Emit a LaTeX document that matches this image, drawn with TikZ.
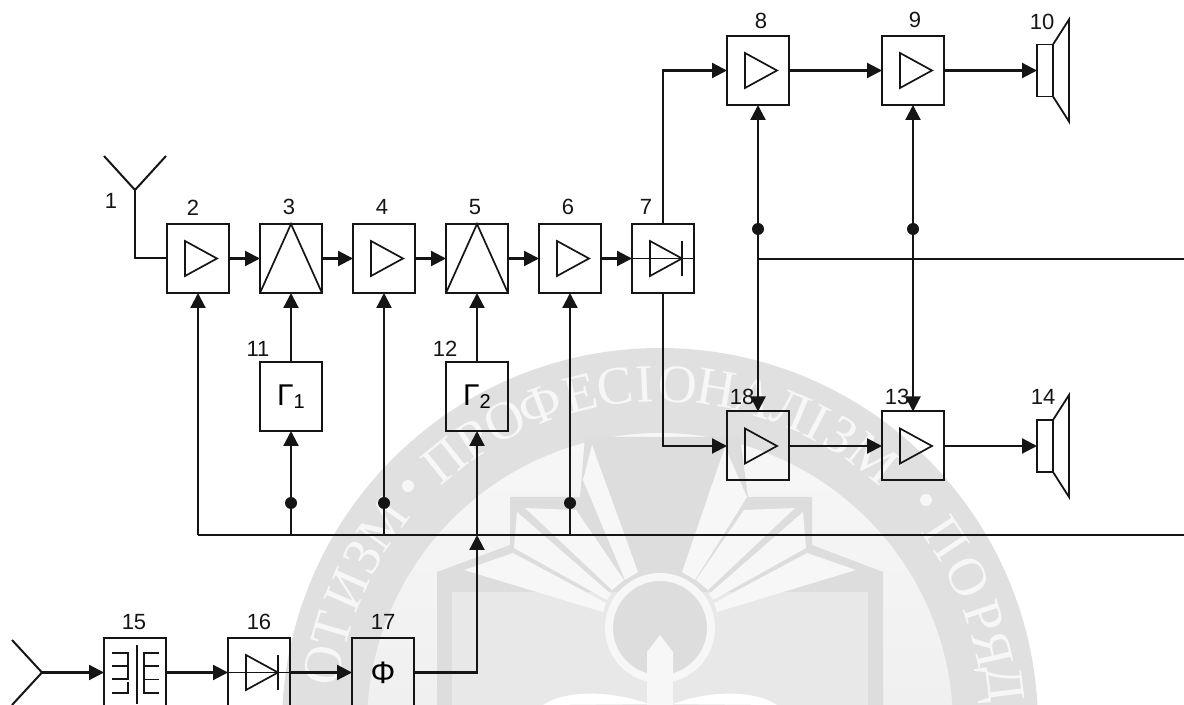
\documentclass[tikz,border=0pt]{standalone}
\usepackage{fontspec}
\setmainfont{Liberation Sans}
\newfontfamily\wmfont{Liberation Serif}
\usetikzlibrary{arrows.meta,positioning,calc}
\definecolor{ink}{HTML}{151515}
\definecolor{wmring}{HTML}{E0E0E0}
\definecolor{wmdark}{HTML}{DDDDDD}
\definecolor{wmmid}{HTML}{E8E8E8}
\definecolor{wmpale}{HTML}{F7F7F7}
\newcommand{\gen}[1]{\fontsize{15}{15}\selectfont Γ\raisebox{-1.5pt}{\fontsize{10}{10}\selectfont #1}}
\tikzset{
  block/.style={draw=ink,line width=1pt,minimum width=31pt,minimum height=34.5pt,inner sep=0pt,outer sep=0pt},
  spk/.style={draw=ink,line width=.9pt,minimum width=8pt,minimum height=26pt,inner sep=0pt,outer sep=0pt},
  arrow/.style={-{Triangle[length=7.5pt,width=7.5pt]},line width=1.1pt,draw=ink},
  twoway/.style={{Triangle[length=7.5pt,width=7.5pt]}-{Triangle[length=7.5pt,width=7.5pt]},line width=1.1pt,draw=ink},
  wire/.style={line width=1pt,draw=ink},
  thin wire/.style={line width=.85pt,draw=ink},
  num/.style={font=\fontsize{11}{12}\selectfont,text=ink,inner sep=0pt},
  dot/.style={circle,fill=ink,inner sep=0pt,minimum size=6pt},
  wm/.style={font=\wmfont\fontsize{27}{27}\selectfont,text=wmpale,inner sep=0pt}
}
\begin{document}
\begin{tikzpicture}[x=.5pt,y=-.5pt,node distance=15.5pt]
\useasboundingbox (0,0) rectangle (1184,705);
\clip (0,0) rectangle (1184,705);

% seal behind the scheme
\fill[wmring] (660,726) circle [radius=378];
\shade[top color=wmpale,bottom color=wmmid] (660,726) circle [radius=293];
\fill[wmdark] (585,437)--(740,437)--(748,497)--(812,497)--(812,545)--(883,572)--(883,705)
  --(437,705)--(437,572)--(510,545)--(510,497)--(580,497)--cycle;
\fill[wmmid] (452,592)--(868,592)--(868,705)--(452,705)--cycle;
\fill[wmpale] (592,445)--(638,572)--(625,580)--(583,480)--cycle;
\fill[wmpale] (525,508)--(576,510)--(624,580)--(612,590)--cycle;
\fill[wmpale] (517,512)--(611,594)--(607,600)--(514,548)--cycle;
\fill[wmpale] (464,570)--(513,553)--(606,603)--(603,612)--cycle;
\fill[wmpale] (725,447)--(682,572)--(695,580)--(747,497)--cycle;
\fill[wmpale] (795,508)--(744,510)--(696,580)--(708,590)--cycle;
\fill[wmpale] (803,512)--(709,594)--(713,600)--(806,548)--cycle;
\fill[wmpale] (856,570)--(807,553)--(714,603)--(717,612)--cycle;
\draw[wmpale,line width=4pt,fill=wmdark] (660,628) circle [radius=51];
\fill[wmpale] (647,705)--(647,652)--(660,635)--(673,652)--(673,705)--cycle;
\fill[white] (543,705) .. controls (565,690) and (610,690) .. (649,704)--cycle;
\fill[white] (673,704) .. controls (710,690) and (755,690) .. (777,705)--cycle;
\foreach \c/\ang [count=\i] in {П/-39,Р/-33,О/-27,Ф/-20.5,Е/-13.5,С/-7.5,І/-2.5,О/3,Н/9.5,А/16,Л/22.5,І/27.5,З/32,М/38.5,
  О/-79.7,Т/-73.7,И/-66.4,З/-60.3,М/-54,П/56.6,О/64.2,Р/71.5,Я/77,Д/83}
  \node[wm,rotate=-\ang] (seal\i) at ({660+342*sin(\ang)},{726-342*cos(\ang)}) {\c};
\fill[wmpale] (408,486) circle [radius=6];
\fill[wmpale] (926,500) circle [radius=6];

% upper chain
\node[block] (b2) at (198,258.5) {};
\node[block,right=of b2] (b3) {};
\node[block,right=of b3] (b4) {};
\node[block,right=of b4] (b5) {};
\node[block,right=of b5] (b6) {};
\node[block,right=of b6] (b7) {};
\node[block] (b8) at (758,70.5) {};
\node[block,right=46.5pt of b8] (b9) {};
\node[spk,right=46.5pt of b9] (s10) {};
\node[block] (b18) at (758,446) {};
\node[block,right=46.5pt of b18] (b13) {};
\node[spk,right=46.5pt of b13] (s14) {};
\node[block,below=34.5pt of b3] (b11) {\gen{1}};
\node[block,below=34.5pt of b5] (b12) {\gen{2}};

% lower chain
\node[block] (b15) at (135,672.5) {};
\node[block,right=31pt of b15] (b16) {};
\node[block,right=31pt of b16,font=\fontsize{15.5}{16}\selectfont] (b17) {Φ};

\foreach \t/\x/\y in {1/111/201,2/193/208,3/289/207,4/382/207,5/475/207,6/568/207,7/646/207,
  8/761/21,9/915/20,10/1042/22,11/258/349,12/445/349,18/742/397,13/897/397,14/1043/397,
  15/134/622,16/259/622,17/383/622}
  \node[num] (n\t) at (\x,\y) {\t};

% block symbols
\foreach \b in {b2,b4,b6,b8,b9,b18,b13}
  \draw[thin wire,shift={(\b.center)}] (-13,-17.5)--(19,0)--(-13,17.5)--cycle;
\foreach \b in {b3,b5}
  \draw[thin wire] (\b.south west)--(\b.north)--(\b.south east);
\foreach \b in {b7,b16} {
  \draw[thin wire,shift={(\b.center)}] (-13,-17.5)--(19,0)--(-13,17.5)--cycle;
  \draw[thin wire,shift={(\b.center)}] (19,-17.5)--(19,17.5);
  \draw[thin wire] (\b.west)--(\b.east);
}
\begin{scope}[shift={(b15.center)}]
\draw[thin wire] (2,-27.5)--(2,31.5);
\draw[thin wire] (-23,-19.5)--(-7,-19.5)--(-7,6.5)--(-23,6.5);
\draw[thin wire] (-23,-6.5)--(-7,-6.5);
\draw[thin wire] (-7,9)--(-7,20.5)--(-23,20.5);
\draw[thin wire] (24,-19.5)--(9,-19.5)--(9,20.5)--(24,20.5);
\draw[thin wire] (9,-6.5)--(24,-6.5);
\draw[thin wire] (9,7)--(24,7);
\end{scope}

% speakers
\foreach \s in {s10,s14}
  \draw[spk] (\s.north east)--++(16,-25)--++(0,102)--(\s.south east);

% antennas
\coordinate (ant1) at (135,190);
\coordinate (ant2) at (42,672.5);
\draw[wire] (104,156)--(ant1)--(166,156);
\draw[wire] (ant1) |- (b2.west);
\draw[wire] (12,640)--(ant2)--(12,705);

% signal path
\draw[arrow] (b2)--(b3);
\draw[arrow] (b3)--(b4);
\draw[arrow] (b4)--(b5);
\draw[arrow] (b5)--(b6);
\draw[arrow] (b6)--(b7);
\draw[arrow] (b7.north) |- (b8.west);
\draw[arrow] (b7.south) |- (b18.west);
\draw[arrow] (b8)--(b9);
\draw[arrow] (b9)--(s10);
\draw[arrow] (b18)--(b13);
\draw[arrow] (b13)--(s14);
\draw[arrow] (b11)--(b3);
\draw[arrow] (b12)--(b5);
\draw[arrow] (ant2)--(b15);
\draw[arrow] (b15)--(b16);
\draw[arrow] (b16)--(b17);

% gain lines on the right
\coordinate (tapr) at (0,229);
\coordinate (out1) at (1184,259);
\draw[twoway] (b8)--(b18);
\draw[twoway] (b9)--(b13);
\node[dot] (d8) at (b8.south |- tapr) {};
\node[dot] (d9) at (b9.south |- tapr) {};
\draw[thin wire] (b8.south |- out1)--(out1);

% common bus
\coordinate (out2) at (1184,535);
\coordinate (tapb) at (0,503);
\coordinate (bus12) at (b12.south |- out2);
\draw[wire] (b2.south |- out2)--(out2);
\draw[arrow] (b2.south |- out2)--(b2);
\draw[arrow] (b11.south |- out2)--(b11);
\draw[arrow] (b4.south |- out2)--(b4);
\draw[arrow] (b6.south |- out2)--(b6);
\draw[arrow] (bus12)--(b12);
\draw[arrow] (b17.east) -| (bus12);
\node[dot] (d11) at (b11.south |- tapb) {};
\node[dot] (d4) at (b4.south |- tapb) {};
\node[dot] (d6) at (b6.south |- tapb) {};
\end{tikzpicture}
\end{document}
